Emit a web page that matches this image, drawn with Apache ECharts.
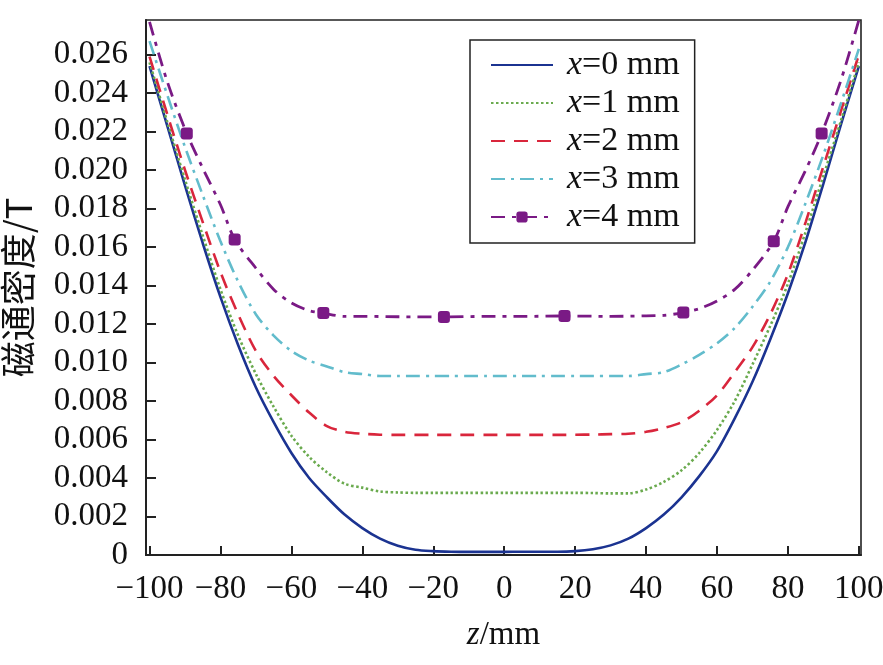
<!DOCTYPE html>
<html><head><meta charset="utf-8">
<script src="https://cdn.jsdelivr.net/npm/echarts@6/dist/echarts.min.js"></script>
<style>html,body{margin:0;padding:0;background:#fff}#c{width:883px;height:665px}</style>
</head><body><div id="c"></div>
<script>
// ---- data ----
const seriesNames = ['x=0 mm', 'x=1 mm', 'x=2 mm', 'x=3 mm', 'x=4 mm'];
const xTicks = [-100, -80, -60, -40, -20, 0, 20, 40, 60, 80, 100];
const yTicks = [0, 0.002, 0.004, 0.006, 0.008, 0.010, 0.012, 0.014, 0.016, 0.018, 0.020, 0.022, 0.024, 0.026];

const zGrid = [-100, -95, -90, -85, -80, -75, -70, -65, -60, -55, -50, -45, -40, -35, -30, -25, -20, -15, -10, -5, 0,
               5, 10, 15, 20, 25, 30, 35, 40, 45, 50, 55, 60, 65, 70, 75, 80, 85, 90, 95, 100];

const b0 = [0.0254, 0.0223, 0.0192, 0.0162, 0.0134, 0.0109, 0.0087, 0.0069, 0.0053, 0.0040, 0.0030, 0.0021, 0.0014, 0.00085, 0.00048, 0.00027, 0.0002, 0.00017, 0.00016, 0.00016, 0.00016,
            0.00017, 0.00017, 0.00017, 0.0002, 0.0003, 0.0005, 0.00085, 0.0014, 0.0021, 0.0030, 0.0041, 0.0054, 0.0071, 0.0090, 0.0112, 0.0136, 0.0163, 0.0193, 0.0224, 0.0254];
const b1 = [0.0256, 0.0225, 0.0195, 0.0166, 0.0138, 0.0114, 0.0094, 0.0077, 0.0062, 0.0051, 0.0043, 0.0037, 0.0035, 0.0033, 0.00325, 0.00323, 0.00323, 0.00323, 0.00323, 0.00323, 0.00323,
            0.00323, 0.00323, 0.00323, 0.00323, 0.00322, 0.0032, 0.0032, 0.0034, 0.0038, 0.0044, 0.0053, 0.0065, 0.0080, 0.0099, 0.0119, 0.0141, 0.0168, 0.0197, 0.0226, 0.0256];
const b2 = [0.0259, 0.0229, 0.0200, 0.0173, 0.0147, 0.0125, 0.0106, 0.0093, 0.0083, 0.0074, 0.0067, 0.0064, 0.0063, 0.00625, 0.00624, 0.00624, 0.00624, 0.00624, 0.00624, 0.00624, 0.00624,
            0.00624, 0.00624, 0.00624, 0.00625, 0.00626, 0.00628, 0.0063, 0.0064, 0.0066, 0.0069, 0.0075, 0.0083, 0.0095, 0.0108, 0.0125, 0.0146, 0.0173, 0.0202, 0.0231, 0.0260];
const b3 = [0.0267, 0.0239, 0.0212, 0.0187, 0.0163, 0.0142, 0.0125, 0.0114, 0.0106, 0.0101, 0.0098, 0.0095, 0.0094, 0.0093, 0.0093, 0.0093, 0.0093, 0.0093, 0.0093, 0.0093, 0.0093,
            0.0093, 0.0093, 0.0093, 0.0093, 0.0093, 0.0093, 0.0093, 0.0094, 0.0095, 0.0099, 0.0104, 0.0110, 0.0118, 0.0129, 0.0142, 0.0160, 0.0183, 0.0208, 0.0235, 0.0263];

const z4 = [-100, -95, -89.5, -85, -80, -76, -70, -65, -60, -55, -51, -45, -40, -30, -17, -5, 5, 17, 30, 40, 45, 50.5, 55, 60, 65, 70, 76, 80, 85, 89.5, 95, 100];
const b4 = [0.0277, 0.0246, 0.0219, 0.0201, 0.0182, 0.0164, 0.0149, 0.0138, 0.0131, 0.0127, 0.01257, 0.0124, 0.0124, 0.01238, 0.01237, 0.0124, 0.0124, 0.01242, 0.0124, 0.01243, 0.01245, 0.0126, 0.0128, 0.0132, 0.0138, 0.0148, 0.0163, 0.0181, 0.0200, 0.0219, 0.0247, 0.0278];
const markers4 = [-89.5, -76, -51, -17, 17, 50.5, 76, 89.5];

// ---- chart ----
const serif = '"Liberation Serif", "Times New Roman", serif';
const colors = ['#1b3391', '#6aaa4e', '#d9263c', '#62bccc', '#7a1a85'];
const dashes = ['solid', [2.5, 2.5], [14, 9], [14, 6, 3, 6], [14, 7, 4, 7]];

function pairs(zs, ys) { return zs.map((z, i) => [z, ys[i]]); }

const lineSeries = [b0, b1, b2, b3].map((ys, k) => ({
  name: seriesNames[k], type: 'line', smooth: 0.3, symbol: 'none',
  data: pairs(zGrid, ys),
  lineStyle: { color: colors[k], width: 2.6, type: dashes[k] },
  itemStyle: { color: colors[k] }, z: 2 + k
}));
lineSeries.push({
  name: seriesNames[4], type: 'line', smooth: 0.3,
  symbol: 'roundRect', symbolSize: 12, showAllSymbol: true,
  data: z4.map((z, i) => markers4.includes(z) ? { value: [z, b4[i]] } : { value: [z, b4[i]], symbol: 'none' }),
  lineStyle: { color: colors[4], width: 2.8, type: dashes[4] },
  itemStyle: { color: colors[4] }, z: 7
});

const chart = echarts.init(document.getElementById('c'), null, { renderer: 'canvas' });
chart.setOption({
  animation: false,
  backgroundColor: '#fff',
  grid: { left: 146, right: 22, top: 20, bottom: 110, show: true, borderColor: '#222', borderWidth: 1.6,
          containLabel: false, outerBoundsMode: 'none' },
  legend: {
    orient: 'vertical', left: 470, top: 40,
    data: seriesNames.map((n, k) => k < 4 ? { name: n, itemStyle: { opacity: 0 } } : { name: n }),
    itemWidth: 62, itemHeight: 14, itemGap: 4,
    padding: [8, 15, 9, 20],
    borderColor: '#222', borderWidth: 1.5, backgroundColor: '#fff',
    formatter: n => '{i|x}{n|' + n.slice(1) + '}',
    textStyle: {
      lineHeight: 33,
      rich: {
        i: { fontFamily: serif, fontStyle: 'italic', fontSize: 34, color: '#111', padding: [0, 0, 0, 9] },
        n: { fontFamily: serif, fontSize: 34, color: '#111' }
      }
    }
  },
  xAxis: {
    type: 'value', min: -101, max: 100.6,
    name: '{i|z}{n|/mm}', nameLocation: 'middle', nameGap: 64,
    nameTextStyle: { rich: {
      i: { fontFamily: serif, fontStyle: 'italic', fontSize: 33, color: '#111' },
      n: { fontFamily: serif, fontSize: 33, color: '#111' } } },
    axisLine: { onZero: false, lineStyle: { color: '#222', width: 2 } },
    axisTick: { inside: true, length: 9, lineStyle: { color: '#222', width: 2 }, customValues: xTicks },
    axisLabel: { customValues: xTicks, margin: 18, fontFamily: serif, fontSize: 33, color: '#111',
      formatter: v => (v < 0 ? '\u2212' + Math.abs(v) : String(v)) },
    splitLine: { show: false }
  },
  yAxis: {
    type: 'value', min: 0, max: 0.0278,
    name: '磁通密度/T', nameLocation: 'middle', nameGap: 110,
    nameTextStyle: { fontFamily: '"Noto Sans CJK SC", ' + serif, fontSize: 36, color: '#111' },
    axisLine: { onZero: false, lineStyle: { color: '#222', width: 2 } },
    axisTick: { inside: true, length: 10, lineStyle: { color: '#222', width: 2 }, customValues: yTicks },
    axisLabel: { customValues: yTicks, margin: 18, fontFamily: serif, fontSize: 33, color: '#111',
      formatter: v => (v === 0 ? '0' : v.toFixed(3)) },
    splitLine: { show: false }
  },
  series: lineSeries
});
</script></body></html>
